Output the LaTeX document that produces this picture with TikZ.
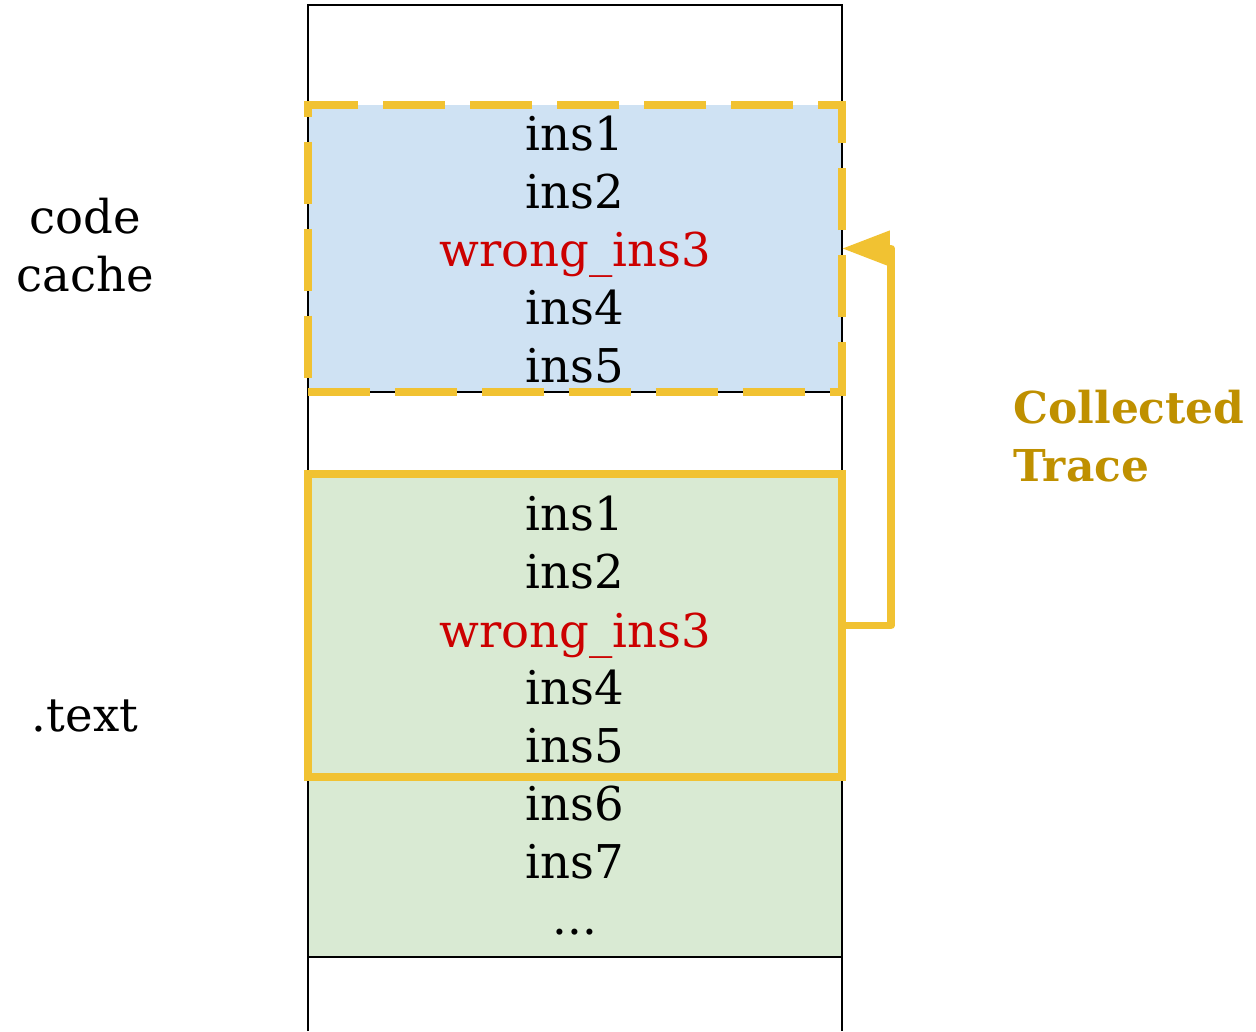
\documentclass[tikz,border=0pt]{standalone}
\usepackage{fontspec}
\setmainfont{DejaVu Serif}
\usetikzlibrary{arrows.meta}
\definecolor{cacheblue}{HTML}{CFE2F3}
\definecolor{textgreen}{HTML}{D9EAD3}
\definecolor{traceyellow}{HTML}{F1C232}
\definecolor{tracegold}{HTML}{BF9000}
\definecolor{badred}{HTML}{CC0000}
\tikzset{
  memline/.style={line width=1.2pt, draw=black},
  region/.style={minimum width=10.68cm, inner sep=0pt, outer sep=0pt},
  tracebox/.style={draw=traceyellow, line width=4.4pt},
  row/.style={anchor=base, inner sep=0pt, font=\fontsize{26.5pt}{33pt}\selectfont},
  badrow/.style={row, text=badred},
  sidelabel/.style={align=center, inner sep=0pt, font=\fontsize{26.5pt}{33pt}\selectfont},
  tracelabel/.style={align=left, anchor=north west, inner sep=0pt, text=tracegold,
    font=\bfseries\fontsize{25pt}{33pt}\selectfont},
  tracearrow/.style={draw=traceyellow, line width=4.4pt, line join=round,
    -{Triangle[length=0.96cm, width=0.68cm]}}
}
\begin{document}
\begin{tikzpicture}[x=0.02cm, y=-0.02cm]
\useasboundingbox (0,0) rectangle (1256,1031);

% filled regions of the memory column
\fill[cacheblue] (308,105) rectangle (842,392);
\fill[textgreen] (308,474) rectangle (842,957);

% memory column outline and section boundaries
\draw[memline] (308,1031) -- (308,5) -- (842,5) -- (842,1031);
\draw[memline] (308,392) -- (842,392);
\draw[memline] (308,474) -- (842,474);
\draw[memline] (308,957) -- (842,957);

% highlighted trace: copy in the code cache and the original in .text
\node[region, minimum height=5.74cm, tracebox, dash pattern=on 35.5pt off 14pt]
  (cache) at (575,248.5) {};
\node[region, minimum height=6.06cm, tracebox] (text) at (575,625.5) {};

% trace copied from .text into the code cache
\coordinate (rail) at (891,437);
\draw[tracearrow] (text.east) -| (rail) |- (cache.east);

% instructions in the code cache
\node[row] (c1) at (575,150) {ins1};
\node[row] (c2) at (575,208) {ins2};
\node[badrow] (c3) at (575,266) {wrong\_ins3};
\node[row] (c4) at (575,324) {ins4};
\node[row] (c5) at (575,382) {ins5};

% instructions in .text
\node[row] (t1) at (575,530) {ins1};
\node[row] (t2) at (575,588) {ins2};
\node[badrow] (t3) at (575,647) {wrong\_ins3};
\node[row] (t4) at (575,704) {ins4};
\node[row] (t5) at (575,762) {ins5};
\node[row] (t6) at (575,820) {ins6};
\node[row] (t7) at (575,878) {ins7};
\node[row] (t8) at (575,934) {...};

% section labels
\node[sidelabel] (lcache) at (85,245) {code\\cache};
\node[sidelabel] (ltext) at (85,716) {.text};
\node[tracelabel] (ltrace) at (1013,390) {Collected\\Trace};
\end{tikzpicture}
\end{document}
